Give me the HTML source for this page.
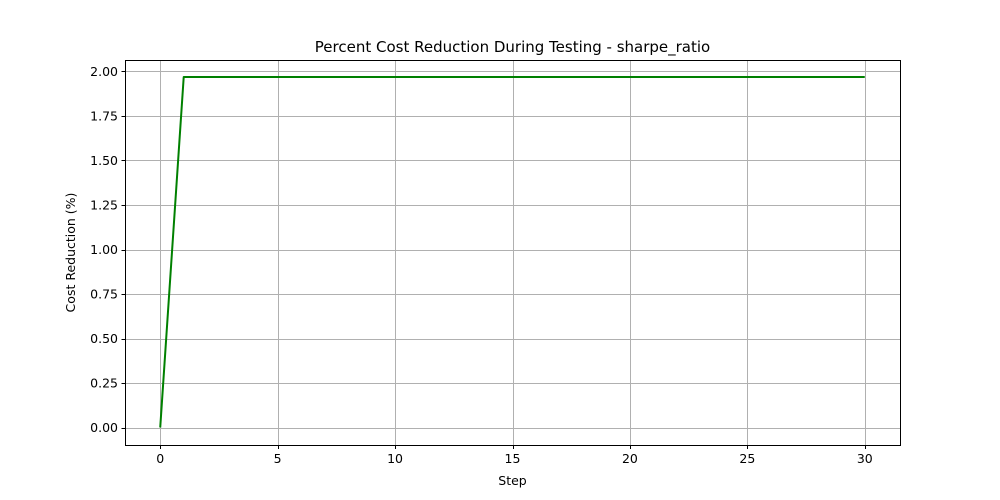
<!DOCTYPE html>
<html><head><meta charset="utf-8"><style>
html,body{margin:0;padding:0;background:#fff;}
svg{display:block;font-family:"DejaVu Sans","Liberation Sans",sans-serif;}
</style></head><body>
<svg id="chart" width="1000" height="500"></svg>
<script>
const steps = [0,1,2,3,4,5,6,7,8,9,10,11,12,13,14,15,16,17,18,19,20,21,22,23,24,25,26,27,28,29,30];
const costReduction = [0,1.969,1.969,1.969,1.969,1.969,1.969,1.969,1.969,1.969,1.969,1.969,1.969,1.969,1.969,1.969,1.969,1.969,1.969,1.969,1.969,1.969,1.969,1.969,1.969,1.969,1.969,1.969,1.969,1.969,1.969];
const xTicks = [0,5,10,15,20,25,30];
const yTicks = [0,0.25,0.5,0.75,1.0,1.25,1.5,1.75,2.0];
const yTickLabels = ["0.00","0.25","0.50","0.75","1.00","1.25","1.50","1.75","2.00"];

const L=125, R=900, T=60, B=445;
const xMin=-1.5, xMax=31.5, yMin=-0.0983, yMax=2.0646;
const xs = v => L + (v - xMin) / (xMax - xMin) * (R - L);
const ys = v => B - (v - yMin) / (yMax - yMin) * (B - T);
const px = v => Math.round(v) + 0.5;
const svg = document.getElementById('chart');
const NS = 'http://www.w3.org/2000/svg';
function mk(tag, attrs, parent) {
  const e = document.createElementNS(NS, tag);
  for (const k in attrs) e.setAttribute(k, attrs[k]);
  (parent || svg).appendChild(e);
  return e;
}
const grid = mk('g', {});


xTicks.forEach(t => {
  const g = mk('line', {x1: px(xs(t)), x2: px(xs(t)), y1: T, y2: B, stroke: '#b0b0b0', 'stroke-width': 1}, grid);
  
  
});
yTicks.forEach(t => {
  const g = mk('line', {x1: L, x2: R, y1: px(ys(t)), y2: px(ys(t)), stroke: '#b0b0b0', 'stroke-width': 1}, grid);
  
  
});
const pts = steps.map((s, i) => xs(s) + ',' + ys(costReduction[i])).join(' ');
const line = mk('polyline', {points: pts, fill: 'none', stroke: 'green', 'stroke-width': 2, 'stroke-linejoin': 'round'});


const frame = mk('rect', {x: L + 0.5, y: T + 0.5, width: R - L, height: B - T, fill: 'none', stroke: '#000', 'stroke-width': 1});


xTicks.forEach(t => {
  const tk = mk('line', {x1: px(xs(t)), x2: px(xs(t)), y1: B, y2: B + 4, stroke: '#000', 'stroke-width': 1});
  
  
  const tx = mk('text', {x: xs(t), y: B + 18, 'text-anchor': 'middle', 'font-size': 12.5});
  tx.textContent = String(t);
  
  
});
yTicks.forEach((t, i) => {
  const tk = mk('line', {x1: L - 3.5, x2: L, y1: px(ys(t)), y2: px(ys(t)), stroke: '#000', 'stroke-width': 1});
  
  
  const tx = mk('text', {x: L - 7, y: ys(t) + 4.5, 'text-anchor': 'end', 'font-size': 12.5});
  tx.textContent = yTickLabels[i];
  
  
});
const title = mk('text', {x: (L + R) / 2, y: 52, 'text-anchor': 'middle', 'font-size': 15});
title.textContent = 'Percent Cost Reduction During Testing - sharpe_ratio';


const xl = mk('text', {x: (L + R) / 2, y: 485, 'text-anchor': 'middle', 'font-size': 12.5});
xl.textContent = 'Step';


const yl = mk('text', {x: 75, y: (T + B) / 2, 'text-anchor': 'middle', 'font-size': 12.5, transform: 'rotate(-90 75 ' + (T + B) / 2 + ')'});
yl.textContent = 'Cost Reduction (%)';


</script>
</body></html>
